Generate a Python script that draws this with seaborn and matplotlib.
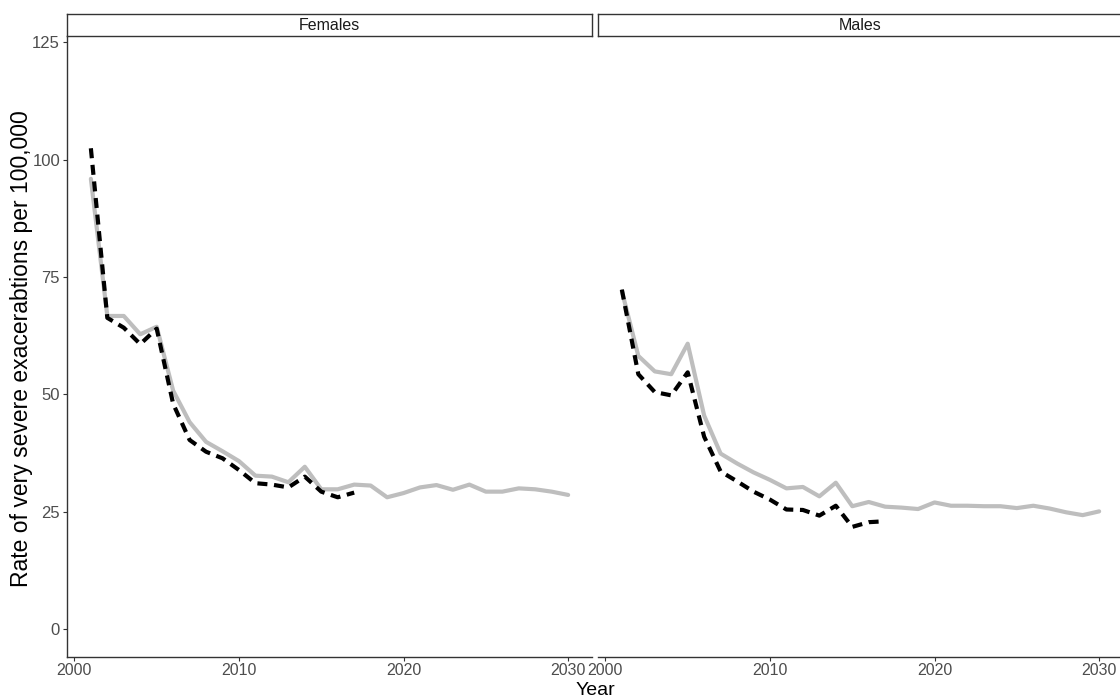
import numpy as np
import pandas as pd
import matplotlib
matplotlib.use("Agg")
import matplotlib.pyplot as plt
import seaborn as sns

# Years for the modelled (grey) and observed (dashed) series
years_model = list(range(2001, 2031))
years_obs = list(range(2001, 2018))

# Females
fem_model = [95.9, 66.7, 66.7, 62.8, 64.4, 50.8, 44.1, 39.9, 37.9, 35.8,
             32.7, 32.5, 31.3, 34.6, 29.8, 29.8, 30.8, 30.6, 28.1, 29.0,
             30.2, 30.7, 29.7, 30.8, 29.3, 29.3, 30.0, 29.8, 29.3, 28.6]
fem_obs = [102.4, 66.3, 64.2, 60.7, 64.0, 48.0, 40.3, 37.8, 36.4, 33.9,
           31.1, 30.8, 30.2, 32.5, 29.3, 28.1, 29.1]

# Males
male_model = [72.0, 58.2, 54.9, 54.3, 60.8, 45.5, 37.4, 35.3, 33.4, 31.8,
              30.0, 30.3, 28.3, 31.2, 26.2, 27.1, 26.1, 25.9, 25.6, 27.0,
              26.3, 26.3, 26.2, 26.2, 25.8, 26.3, 25.7, 24.9, 24.3, 25.1]
male_obs = [72.3, 54.3, 50.5, 49.8, 54.7, 41.0, 33.6, 31.5, 29.3, 27.6,
            25.5, 25.4, 24.2, 26.3, 21.8, 22.8, 23.0]

panels = ["Females", "Males"]
y_ticks = [0, 25, 50, 75, 100, 125]
x_ticks = [2000, 2010, 2020, 2030]

frames = []
for sex, mod, obs in [("Females", fem_model, fem_obs), ("Males", male_model, male_obs)]:
    frames.append(pd.DataFrame({"year": years_model, "rate": mod, "sex": sex, "series": "modelled"}))
    frames.append(pd.DataFrame({"year": years_obs, "rate": obs, "sex": sex, "series": "observed"}))
df = pd.concat(frames, ignore_index=True)

sns.set_theme(style="white")
plt.rcParams["font.family"] = ["Liberation Sans", "DejaVu Sans"]

W, H = 1120, 700
fig = plt.figure(figsize=(W / 100, H / 100), dpi=100)

panel_px = [(67, 592), (598, 1123)]
top_px, bot_px = 36, 657
strip_top = 14

for i, (sex, (x0, x1)) in enumerate(zip(panels, panel_px)):
    ax = fig.add_axes([x0 / W, 1 - bot_px / H, (x1 - x0) / W, (bot_px - top_px) / H])
    sub = df[df["sex"] == sex]
    sns.lineplot(data=sub[sub["series"] == "modelled"], x="year", y="rate",
                 color="#BEBEBE", linewidth=3.0, ax=ax, legend=False)
    sns.lineplot(data=sub[sub["series"] == "observed"], x="year", y="rate",
                 color="black", linewidth=3.0, linestyle=(0, (2.4, 1.6)),
                 ax=ax, legend=False)
    ax.set_xlim(1999.55, 2031.45)
    ax.set_ylim(-5.9, 126.3)
    ax.set_xticks(x_ticks)
    ax.set_xticklabels([str(t) for t in x_ticks])
    ax.set_xlabel("")
    ax.set_ylabel("")
    for s in ["top", "right"]:
        ax.spines[s].set_visible(False)
    ax.spines["bottom"].set_color("#333333")
    ax.spines["bottom"].set_linewidth(1.0)
    if i == 0:
        ax.set_yticks(y_ticks)
        ax.spines["left"].set_color("#333333")
        ax.spines["left"].set_linewidth(1.0)
        ax.tick_params(axis="y", length=3, width=0.8, color="#333333",
                       labelsize=12, labelcolor="#4D4D4D", pad=2, left=True)
    else:
        ax.spines["left"].set_visible(False)
        ax.set_yticks([])
    ax.tick_params(axis="x", length=3, width=0.8, color="#333333",
                   labelsize=11.5, labelcolor="#4D4D4D", pad=1, bottom=True)
    ax.grid(False)

    # facet strip
    sax = fig.add_axes([x0 / W, 1 - top_px / H, (x1 - x0) / W, (top_px - strip_top) / H])
    sax.set_xticks([])
    sax.set_yticks([])
    for s in sax.spines.values():
        s.set_color("#333333")
        s.set_linewidth(1.0)
    sax.set_facecolor("white")
    sax.text(0.5, 0.5, sex, ha="center", va="center", fontsize=11.5,
             color="#1A1A1A", transform=sax.transAxes)

fig.text(595 / W, 1 / H, "Year", ha="center", va="bottom", fontsize=14, color="black")
fig.text(22 / W, 1 - 349 / H, "Rate of very severe exacerabtions per 100,000",
         ha="center", va="center", rotation=90, fontsize=16.5, color="black")

fig.savefig("out.png", dpi=100)
